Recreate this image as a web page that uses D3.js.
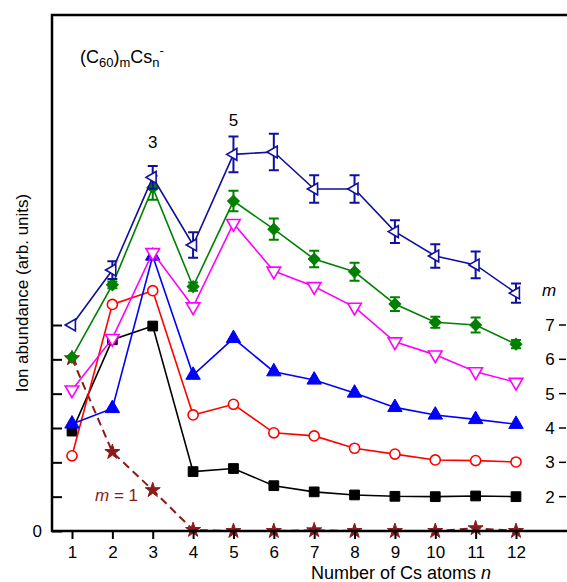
<!DOCTYPE html>
<html>
<head>
<meta charset="utf-8">
<script src="https://cdn.jsdelivr.net/npm/d3@7"></script>
<style>
  body { margin: 0; background: #fff; }
  svg { display: block; font-family: "Liberation Sans", Arial, sans-serif; }
</style>
</head>
<body>
<div id="chart"></div>
<script>
// Number of Cs atoms on the x axis
const nAtoms = [1, 2, 3, 4, 5, 6, 7, 8, 9, 10, 11, 12];

// Ion abundance per cluster size m (arb. units, before vertical offset)
const abundM1 = [5.03, 2.30, 1.19, 0.03, 0.0, 0.0, 0.02, 0.0, 0.0, 0.0, 0.08, 0.0];
const abundM2 = [1.91, 4.57, 4.97, 0.73, 0.82, 0.32, 0.14, 0.05, 0.01, 0.0, 0.02, 0.0];
const abundM3 = [0.19, 4.60, 5.00, 1.38, 1.69, 0.86, 0.77, 0.41, 0.24, 0.07, 0.05, 0.01];
const abundM4 = [0.12, 0.57, 5.01, 1.54, 2.61, 1.64, 1.40, 1.02, 0.60, 0.38, 0.25, 0.11];
const abundM5 = [0.11, 1.61, 4.11, 2.53, 4.96, 3.57, 3.12, 2.52, 1.51, 1.13, 0.64, 0.33];
const abundM6 = [0.06, 2.17, 5.00, 2.12, 4.61, 3.79, 2.92, 2.55, 1.61, 1.08, 1.00, 0.44];
const abundM7 = [0.00, 1.60, 4.30, 2.33, 4.97, 5.04, 3.96, 3.96, 2.72, 2.01, 1.75, 0.93];

// Error bars (only m = 6 and m = 7 carry them)
const errM6 = [0, 0.10, 0.35, 0.12, 0.30, 0.31, 0.24, 0.26, 0.20, 0.16, 0.22, 0.12];
const errM7 = [0, 0.26, 0.33, 0.37, 0.52, 0.53, 0.40, 0.40, 0.33, 0.34, 0.39, 0.28];

// Each m is shifted up by (m - 1) units; labels on the right
const mValues = [1, 2, 3, 4, 5, 6, 7];
const xTickLabels = ["1", "2", "3", "4", "5", "6", "7", "8", "9", "10", "11", "12"];
const yAxisTitle = "Ion abundance (arb. units)";
const xAxisTitle = "Number of Cs atoms ";

const W = 567, H = 582;
const margin = { top: 16, left: 52, bottom: 51 };

const series = [
  { m: 1, vals: abundM1, color: "#8b1a1a", sym: d3.symbolStar, size: 70, fill: true, rot: 0, dash: "8,5" },
  { m: 2, vals: abundM2, color: "#000000", sym: d3.symbolSquare, size: 95, fill: true, rot: 0 },
  { m: 3, vals: abundM3, color: "#ff0000", sym: d3.symbolCircle, size: 80, fill: false, rot: 0 },
  { m: 4, vals: abundM4, color: "#0000ff", sym: d3.symbolTriangle, size: 90, fill: true, rot: 0 },
  { m: 5, vals: abundM5, color: "#ff00ff", sym: d3.symbolTriangle, size: 80, fill: false, rot: 180 },
  { m: 6, vals: abundM6, err: errM6, color: "#008000", sym: d3.symbolSquare, size: 70, fill: true, rot: 45 },
  { m: 7, vals: abundM7, err: errM7, color: "#10109c", sym: d3.symbolTriangle, size: 60, fill: false, rot: -90 }
];

const svg = d3.select("#chart").append("svg")
  .attr("width", W)
  .attr("height", H);

const x = d3.scaleLinear().domain([1, 12]).range([72, 516]);
const y = d3.scaleLinear().domain([0, 15]).range([H - margin.bottom, margin.top]);

// Series
const line = d3.line();
series.forEach(s => {
  const off = s.m - 1;
  const pts = nAtoms.map((n, i) => [x(n), y(s.vals[i] + off)]);
  const g = svg.append("g");

  g.append("path")
    .attr("d", line(pts))
    .attr("fill", "none")
    .attr("stroke", s.color)
    .attr("stroke-width", s.dash ? 2 : 1.6)
    .attr("stroke-dasharray", s.dash || null);

  if (s.err) {
    nAtoms.forEach((n, i) => {
      const e = s.err[i];
      if (!e) return;
      const cx = x(n), y1 = y(s.vals[i] + off - e), y2 = y(s.vals[i] + off + e);
      g.append("path")
        .attr("d", `M${cx},${y1}V${y2}M${cx - 5},${y1}H${cx + 5}M${cx - 5},${y2}H${cx + 5}`)
        .attr("fill", "none")
        .attr("stroke", s.color)
        .attr("stroke-width", 2);
    });
  }

  g.selectAll("path.mark")
    .data(pts)
    .join("path")
    .attr("class", "mark")
    .attr("transform", d => `translate(${d[0]},${d[1]}) rotate(${s.rot})`)
    .attr("d", d3.symbol(s.sym, s.size))
    .attr("fill", s.fill ? s.color : "#fff")
    .attr("stroke", s.color)
    .attr("stroke-width", s.fill ? 1 : 1.6);
});

// Axes
const xAxis = svg.append("g")
  .attr("transform", `translate(0,${y(0)})`)
  .call(d3.axisBottom(x).tickValues(nAtoms).tickFormat((d, i) => xTickLabels[i])
    .tickSizeInner(8).tickSizeOuter(0).tickPadding(7));
xAxis.select(".domain").remove();
xAxis.selectAll("line").attr("stroke-width", 2);
xAxis.selectAll("text").attr("font-size", 17).attr("font-family", "Liberation Sans, Arial, sans-serif").attr("fill", "#000");

const yAxis = svg.append("g")
  .attr("transform", `translate(${margin.left},0)`)
  .call(d3.axisLeft(y).tickValues(d3.range(0, 7)).tickFormat(d => d === 0 ? "0" : "")
    .tickSizeInner(-10).tickSizeOuter(0).tickPadding(10));
yAxis.select(".domain").remove();
yAxis.selectAll("line").attr("stroke-width", 2);
yAxis.selectAll("text").attr("font-size", 17).attr("font-family", "Liberation Sans, Arial, sans-serif").attr("fill", "#000");

// Frame: left, top and bottom lines (open to the right), drawn over the m = 1 marks
svg.append("path")
  .attr("d", `M${W},${margin.top - 1}H${margin.left}V${y(0)}H${W}`)
  .attr("fill", "none")
  .attr("stroke", "#000")
  .attr("stroke-width", 2.5);

// Right-hand m labels with short dashes
svg.append("text")
  .attr("x", 549).attr("y", 296)
  .attr("text-anchor", "middle")
  .attr("font-size", 17).attr("font-style", "italic")
  .text("m");
mValues.filter(m => m > 1).forEach(m => {
  svg.append("text")
    .attr("x", 550).attr("y", y(m - 1))
    .attr("dy", "0.35em")
    .attr("text-anchor", "middle")
    .attr("font-size", 17)
    .text(m);
  svg.append("line")
    .attr("x1", 559).attr("x2", 566)
    .attr("y1", y(m - 1)).attr("y2", y(m - 1))
    .attr("stroke", "#000").attr("stroke-width", 1.5);
});

// m = 1 label
const m1Label = svg.append("text")
  .attr("x", 95).attr("y", 501)
  .attr("font-size", 17)
  .attr("fill", "#8b1a1a");
m1Label.append("tspan").attr("font-style", "italic").text("m");
m1Label.append("tspan").text(" = 1");

// Peak labels
svg.append("text").attr("x", x(3)).attr("y", 148).attr("text-anchor", "middle").attr("font-size", 17).text("3");
svg.append("text").attr("x", x(5)).attr("y", 126).attr("text-anchor", "middle").attr("font-size", 17).text("5");

// Formula label (C60)mCsn-
const formula = svg.append("text")
  .attr("x", 80).attr("y", 63)
  .attr("font-size", 18);
formula.append("tspan").text("(C");
formula.append("tspan").attr("font-size", 13).attr("dy", 4).text("60");
formula.append("tspan").attr("dy", -4).text(")");
formula.append("tspan").attr("font-size", 13).attr("dy", 4).text("m");
formula.append("tspan").attr("dy", -4).text("Cs");
formula.append("tspan").attr("font-size", 13).attr("dy", 4).text("n");
formula.append("tspan").attr("font-size", 13).attr("dy", -12).text("-");

// Axis titles
svg.append("text")
  .attr("transform", `translate(28,293) rotate(-90)`)
  .attr("text-anchor", "middle")
  .attr("font-size", 17)
  .text(yAxisTitle);

const xt = svg.append("text")
  .attr("x", 311).attr("y", 579)
  .attr("font-size", 18);
xt.append("tspan").text(xAxisTitle);
xt.append("tspan").attr("font-style", "italic").text("n");
</script>
</body>
</html>
